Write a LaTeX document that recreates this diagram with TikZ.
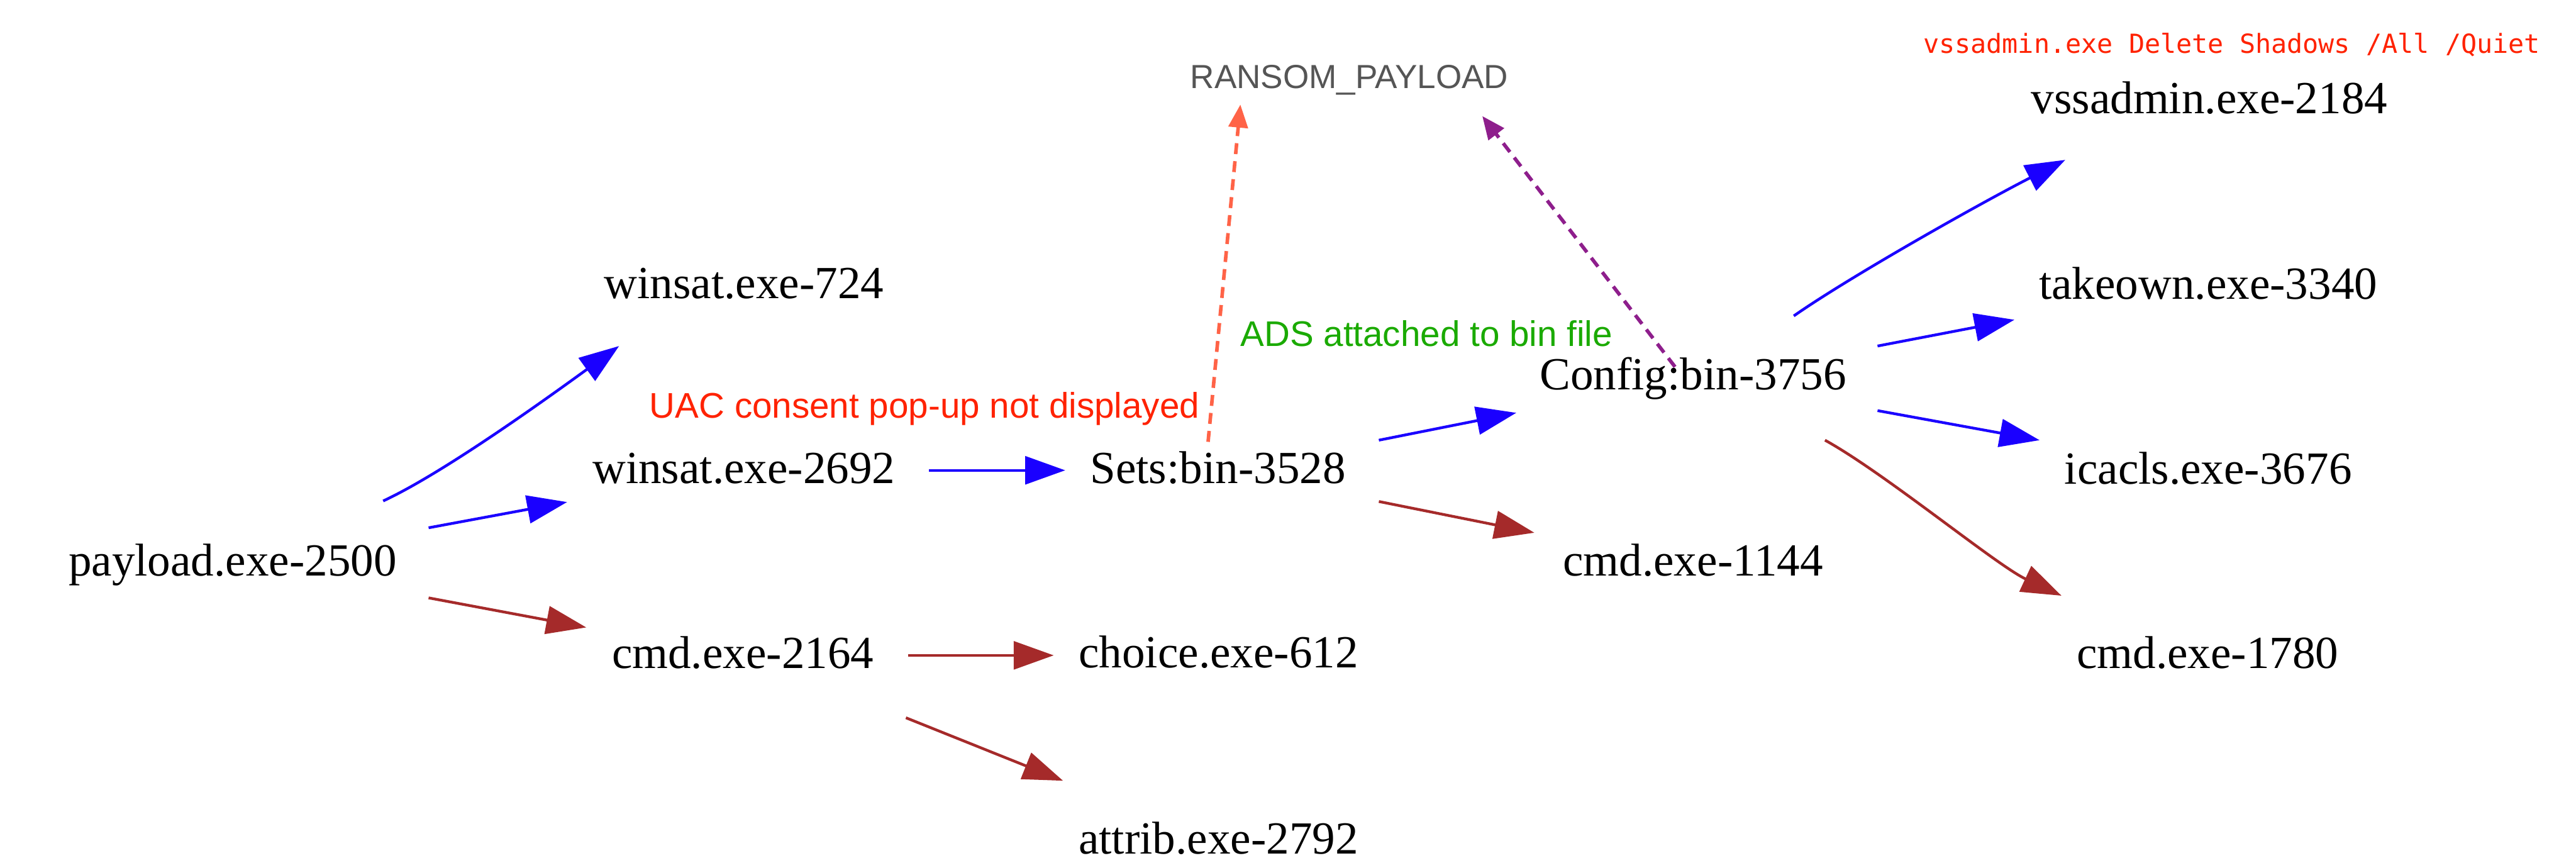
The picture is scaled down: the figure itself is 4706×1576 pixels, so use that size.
\documentclass[tikz,border=0pt]{standalone}
\usepackage{fontspec}
\setmainfont{Liberation Serif}
\newfontfamily\lsans{Liberation Sans}
\newfontfamily\dmono{DejaVu Sans Mono}
\usetikzlibrary{arrows.meta,calc}
\definecolor{cblue}{HTML}{1A00FF}
\definecolor{cbrown}{HTML}{A52A2A}
\definecolor{cred}{HTML}{FF2200}
\definecolor{csalmon}{HTML}{FF6347}
\definecolor{cpurple}{HTML}{8E1E8C}
\definecolor{cgreen}{HTML}{1AAA00}
\definecolor{cgray}{HTML}{555555}
\tikzset{
  pn/.style={inner sep=0pt, text height=5.56bp, text depth=0pt, font=\fontsize{8.4bp}{10bp}\selectfont},
  lbl/.style={inner sep=0pt, text height=4.65bp, text depth=0pt, font=\lsans\fontsize{6.5bp}{8bp}\selectfont},
  rp/.style={inner sep=0pt, text height=4.37bp, text depth=0pt, text=cgray, font=\lsans\fontsize{6.1bp}{7.5bp}\selectfont},
  ml/.style={inner sep=0pt, text height=3.5bp, text depth=0pt, text=cred, font=\dmono\fontsize{4.8bp}{6bp}\selectfont},
  be/.style={draw=cblue, line width=0.5bp, -{Triangle[length=7.3bp,width=5.1bp]}},
  re/.style={draw=cbrown, line width=0.5bp, -{Triangle[length=7.3bp,width=5.1bp]}},
  salm/.style={draw=csalmon, line width=0.65bp, dash pattern=on 2bp off 1.3bp, -{Triangle[length=4.2bp,width=3.5bp]}},
  purp/.style={draw=cpurple, line width=0.65bp, dash pattern=on 2bp off 1.3bp, -{Triangle[length=4.2bp,width=3.5bp]}}
}
\begin{document}
\begin{tikzpicture}[x=0.1bp,y=-0.1bp]
\useasboundingbox[fill=white] (0,0) rectangle (4706,1576);
% nodes
\node[pn] (P) at (425,1024) {payload.exe-2500};
\node[pn] (A) at (1359,517) {winsat.exe-724};
\node[pn] (B) at (1359,855) {winsat.exe-2692};
\node[pn] (C) at (1357,1193) {cmd.exe-2164};
\node[pn] (S) at (2225,855) {Sets:bin-3528};
\node[pn] (H) at (2226,1192) {choice.exe-612};
\node[pn] (T) at (2226,1532) {attrib.exe-2792};
\node[pn] (G) at (3093,684) {Config:bin-3756};
\node[pn] (M) at (3093,1024) {cmd.exe-1144};
\node[pn] (V) at (4036,179) {vssadmin.exe-2184};
\node[pn] (K) at (4034,519) {takeown.exe-3340};
\node[pn] (I) at (4034,856) {icacls.exe-3676};
\node[pn] (D) at (4033,1193) {cmd.exe-1780};
\node[rp] (R) at (2465,139) {RANSOM\_PAYLOAD};
% labels
\node[lbl, text=cred] (uac) at (1689,740) {UAC consent pop-up not displayed};
\node[lbl, text=cgreen] (ads) at (2606,609) {ADS attached to bin file};
\node[ml] (vsl) at (4077,80) {vssadmin.exe Delete Shadows /All /Quiet};
% edges
\draw[be] ($(P)+(275,-109)$) .. controls ($(P)+(385,-160)$) and ($(A)+(-359,210)$) .. ($(A)+(-228,115)$);
\draw[be] ($(P)+(358,-60)$) -- ($(B)+(-323,62)$);
\draw[re] ($(P)+(358,68)$) -- ($(C)+(-286,-47)$);
\draw[be] ($(B)+(338,4)$) -- ($(S)+(-279,4)$);
\draw[re] ($(C)+(302,4)$) -- ($(H)+(-301,5)$);
\draw[re] ($(C)+(298,118)$) -- ($(T)+(-284,-106)$);
\draw[be] ($(S)+(294,-51)$) -- ($(G)+(-323,70)$);
\draw[re] ($(S)+(294,61)$) -- ($(M)+(-290,-51)$);
\draw[salm] ($(S)+(-18,-48)$) -- ($(R)+(-199,52)$);
\draw[purp] ($(G)+(-33,-14)$) -- ($(R)+(243,73)$);
\draw[be] ($(G)+(184,-107)$) .. controls ($(G)+(287,-179)$) and ($(V)+(-416,191)$) .. ($(V)+(-263,113)$);
\draw[be] ($(G)+(337,-52)$) -- ($(K)+(-354,65)$);
\draw[be] ($(G)+(337,66)$) -- ($(I)+(-308,-52)$);
\draw[re] ($(G)+(241,120)$) .. controls ($(G)+(350,180)$) and ($(D)+(-385,-160)$) .. ($(D)+(-267,-105)$);
\end{tikzpicture}
\end{document}
